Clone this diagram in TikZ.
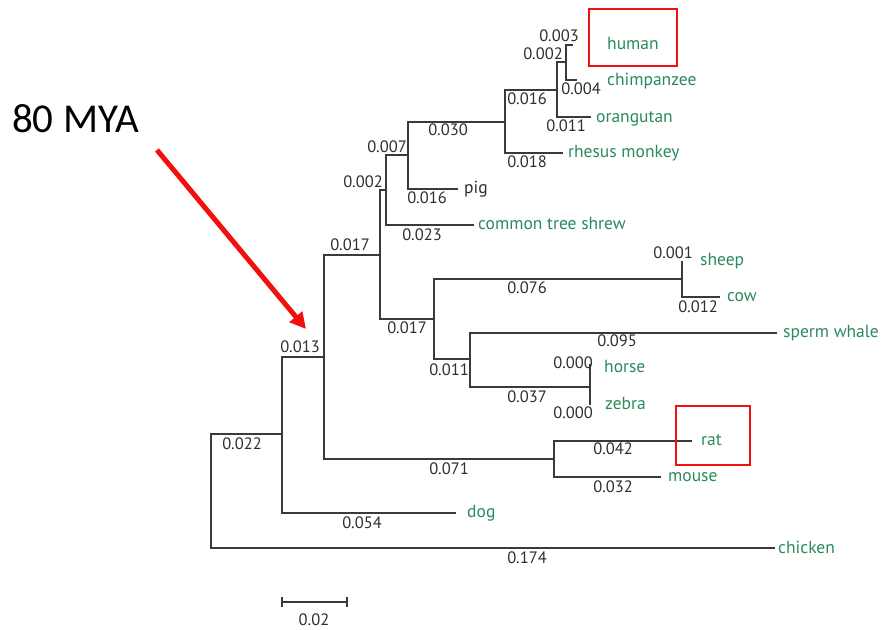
\documentclass[tikz,border=0pt]{standalone}
\usepackage{fontspec}
\setmainfont{PT Sans}
\newfontfamily\calib{Carlito}
\usetikzlibrary{arrows.meta}
\definecolor{leafgreen}{HTML}{2A8A5C}
\definecolor{branchgray}{HTML}{3A3A3A}
\definecolor{numgray}{HTML}{2E2E2E}
\definecolor{boxred}{HTML}{F01010}
\tikzset{
  branch/.style={draw=branchgray, line width=1.3pt, line join=miter},
  blen/.style={font=\fontsize{16.5}{16.5}\selectfont, text=numgray, inner sep=0pt},
  leaf/.style={font=\fontsize{17.5}{17.5}\selectfont, text=leafgreen, inner sep=0pt, anchor=base west, yshift=-5.5pt},
  hilite/.style={draw=boxred, line width=2pt},
}
\begin{document}
\begin{tikzpicture}[x=1pt,y=-1pt]
\useasboundingbox (0,0) rectangle (883,629);
% internal nodes (x of vertical, y of attachment)
\coordinate (root) at (211,434);
\coordinate (A) at (282,434);
\coordinate (B) at (324,357);
\coordinate (C) at (380,255);
\coordinate (D) at (386,190);
\coordinate (F) at (408,155);
\coordinate (G) at (505,122);
\coordinate (H) at (557,90);
\coordinate (I) at (566,62);
\coordinate (E) at (434,319);
\coordinate (J) at (682,279);
\coordinate (K) at (470,359);
\coordinate (L) at (590,387);
\coordinate (R) at (554,459);
% leaf tips
\coordinate (human) at (573,45);
\coordinate (chimp) at (577,80);
\coordinate (orang) at (591,117);
\coordinate (rhesus) at (563,153);
\coordinate (pig) at (458,189);
\coordinate (shrew) at (474,225);
\coordinate (sheep) at (682,261);
\coordinate (cow) at (720,297);
\coordinate (whale) at (777,333);
\coordinate (horse) at (590,364);
\coordinate (zebra) at (590,405);
\coordinate (rat) at (692,441);
\coordinate (mouse) at (661,477);
\coordinate (dog) at (456,513);
\coordinate (chicken) at (775,548);
% branches
\draw[branch] (A) -- (root |- A) -- (root |- chicken) -- (chicken);
\draw[branch] (B) -- (A |- B) -- (A |- dog) -- (dog);
\draw[branch] (C) -- (B |- C) -- (B |- R) -- (R);
\draw[branch] (D) -- (C |- D) -- (C |- E) -- (E);
\draw[branch] (F) -- (D |- F) -- (D |- shrew) -- (shrew);
\draw[branch] (G) -- (F |- G) -- (F |- pig) -- (pig);
\draw[branch] (H) -- (G |- H) -- (G |- rhesus) -- (rhesus);
\draw[branch] (I) -- (H |- I) -- (H |- orang) -- (orang);
\draw[branch] (human) -- (I |- human) -- (I |- chimp) -- (chimp);
\draw[branch] (J) -- (E |- J) -- (E |- K) -- (K);
\draw[branch] (sheep) -- (J |- sheep) -- (J |- cow) -- (cow);
\draw[branch] (whale) -- (K |- whale) -- (K |- L) -- (L);
\draw[branch] (horse) -- (L |- horse) -- (L |- zebra) -- (zebra);
\draw[branch] (rat) -- (R |- rat) -- (R |- mouse) -- (mouse);
% branch lengths
\node[blen] (l1) at (559,36) {0.003};
\node[blen] (l2) at (543,54) {0.002};
\node[blen] (l3) at (581,89) {0.004};
\node[blen] (l4) at (527,99) {0.016};
\node[blen] (l5) at (566,126) {0.011};
\node[blen] (l6) at (448,130) {0.030};
\node[blen] (l7) at (527,162) {0.018};
\node[blen] (l8) at (387,147) {0.007};
\node[blen] (l9) at (363,182) {0.002};
\node[blen] (l10) at (427,198) {0.016};
\node[blen] (l11) at (422,235) {0.023};
\node[blen] (l12) at (350,245) {0.017};
\node[blen] (l13) at (527,288) {0.076};
\node[blen] (l14) at (407,328) {0.017};
\node[blen] (l15) at (617,341) {0.095};
\node[blen] (l16) at (449,370) {0.011};
\node[blen] (l17) at (573,363) {0.000};
\node[blen] (l18) at (527,397) {0.037};
\node[blen] (l19) at (573,413) {0.000};
\node[blen] (l20) at (673,253) {0.001};
\node[blen] (l21) at (698,307) {0.012};
\node[blen] (l22) at (300,347) {0.013};
\node[blen] (l23) at (242,444) {0.022};
\node[blen] (l24) at (362,523) {0.054};
\node[blen] (l25) at (449,469) {0.071};
\node[blen] (l26) at (613,449) {0.042};
\node[blen] (l27) at (613,487) {0.032};
\node[blen] (l28) at (527,558) {0.174};
% leaf names
\node[leaf] (thuman) at (607,44) {human};
\node[leaf] (tchimp) at (607,80) {chimpanzee};
\node[leaf] (torang) at (596,117) {orangutan};
\node[leaf] (trhesus) at (568,152) {rhesus monkey};
\node[leaf, text=numgray] (tpig) at (464,188) {pig};
\node[leaf] (tshrew) at (478,224) {common tree shrew};
\node[leaf] (tsheep) at (700,260) {sheep};
\node[leaf] (tcow) at (727,296) {cow};
\node[leaf] (twhale) at (783,332) {sperm whale};
\node[leaf] (thorse) at (604,367) {horse};
\node[leaf] (tzebra) at (605,404) {zebra};
\node[leaf] (trat) at (701,440) {rat};
\node[leaf] (tmouse) at (668,476) {mouse};
\node[leaf] (tdog) at (467,512) {dog};
\node[leaf] (tchicken) at (778,548) {chicken};
% highlight boxes
\draw[hilite] (589,9) rectangle (677,66);
\draw[hilite] (676,406) rectangle (750,465);
% scale bar
\coordinate (s1) at (282,602);
\coordinate (s2) at (347,602);
\draw[branch] (s1) -- (s2);
\draw[branch] ([yshift=-5pt]s1) -- ([yshift=5pt]s1);
\draw[branch] ([yshift=-5pt]s2) -- ([yshift=5pt]s2);
\node[blen] (sbl) at (314,620) {0.02};
% annotation
\node[font=\calib\fontsize{41}{41}\selectfont, anchor=west, inner sep=0pt] (mya) at (12,119) {80 MYA};
\coordinate (arrowtip) at (306,329);
\coordinate (arrowstart) at (157,150);
\draw[draw=boxred, line width=5pt, -{Triangle[length=16pt,width=16pt]}] (arrowstart) -- (arrowtip);
\end{tikzpicture}
\end{document}
